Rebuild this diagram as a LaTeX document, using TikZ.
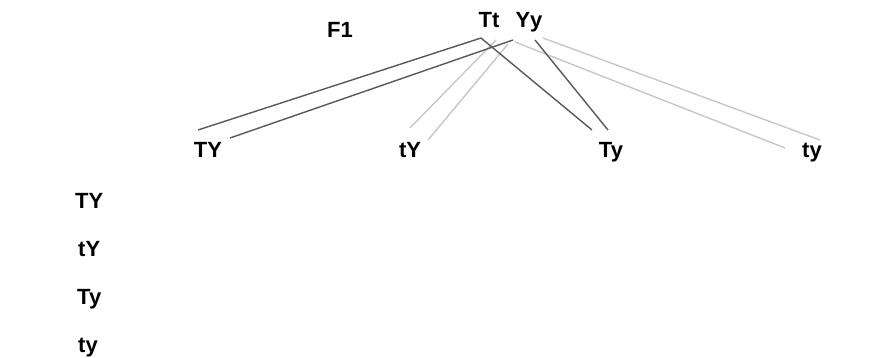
\documentclass[tikz,border=0pt]{standalone}
\usepackage{fontspec}
\setmainfont{Liberation Sans}
\begin{document}
\begin{tikzpicture}[x=1pt,y=-1pt,
  lbl/.style={font=\bfseries\fontsize{22}{22}\selectfont, inner sep=0pt, text=black, anchor=base},
  darkline/.style={draw=black!65, line width=1.4pt},
  lightline/.style={draw=black!22, line width=1.4pt}]
\useasboundingbox[fill=white] (0,0) rectangle (885,358);
% labels
\node[lbl] (F1) at (340,38) {F1};
\node[lbl] (Tt) at (489,28) {Tt};
\node[lbl] (Yy) at (529,28) {Yy};
\node[lbl] (bTY) at (208,158) {TY};
\node[lbl] (btY) at (410,158) {tY};
\node[lbl] (bTy) at (611,158) {Ty};
\node[lbl] (bty) at (812,158) {ty};
\node[lbl, anchor=base west] (lTY) at (75,208) {TY};
\node[lbl, anchor=base west] (ltY) at (78,256) {tY};
\node[lbl, anchor=base west] (lTy) at (77,304) {Ty};
\node[lbl, anchor=base west] (lty) at (78,352) {ty};
% connector ends
\coordinate (s1) at (481,38);
\coordinate (s2) at (513,40);
\coordinate (s3) at (496,40);
\coordinate (s4) at (508,44);
\coordinate (s6) at (535,40);
\coordinate (s7) at (515,42);
\coordinate (s8) at (543,38);
\coordinate (e1) at (198,130);
\coordinate (e2) at (230,138);
\coordinate (e3) at (410,128);
\coordinate (e4) at (428,140);
\coordinate (e5) at (592,130);
\coordinate (e6) at (608,130);
\coordinate (e7) at (785,148);
\coordinate (e8) at (820,140);
% connectors
\draw[lightline] (s3) -- (e3);
\draw[lightline] (s4) -- (e4);
\draw[lightline] (s7) -- (e7);
\draw[lightline] (s8) -- (e8);
\draw[darkline] (s1) -- (e1);
\draw[darkline] (s2) -- (e2);
\draw[darkline] (s1) -- (e5);
\draw[darkline] (s6) -- (e6);
\end{tikzpicture}
\end{document}
